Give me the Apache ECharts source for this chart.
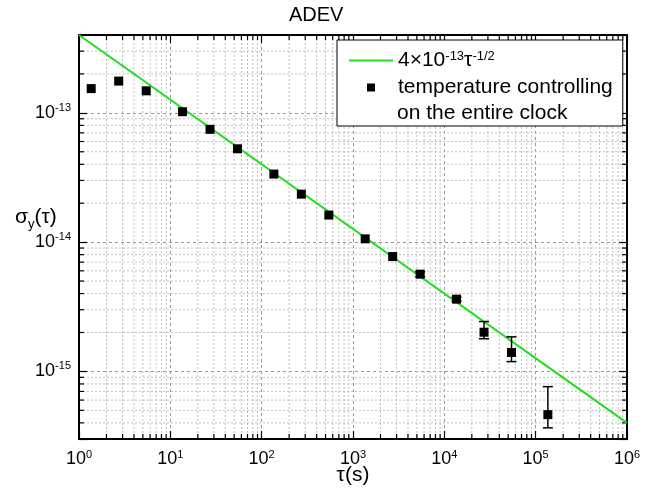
<!DOCTYPE html>
<html><head><meta charset="utf-8">
<script src="https://cdn.jsdelivr.net/npm/echarts@6/dist/echarts.min.js"></script>
<style>html,body{margin:0;padding:0;background:#fff}#c{width:652px;height:491px}</style>
</head><body><div id="c"></div>
<script>
// ---- data ----
const tau = [1.36, 2.72, 5.44, 13.6, 27.2, 54.4, 136, 272, 544, 1360, 2720, 5440, 13600, 27200, 54400, 136000];
const sigma = [1.54e-13, 1.76e-13, 1.48e-13, 1.02e-13, 7.45e-14, 5.27e-14, 3.36e-14, 2.35e-14, 1.62e-14, 1.06e-14, 7.73e-15, 5.65e-15, 3.62e-15, 2.01e-15, 1.40e-15, 4.63e-16];
const errTau = [5440, 13600, 27200, 54400, 136000];
const errLow = [5.40e-15, 3.50e-15, 1.79e-15, 1.19e-15, 3.66e-16];
const errHigh = [5.90e-15, 3.75e-15, 2.43e-15, 1.85e-15, 7.62e-16];
const fitTau = [1, 1e6];
const fitSigma = [4e-13, 4e-16];
const xDecades = [1, 10, 100, 1e3, 1e4, 1e5];
const yDecades = [1e-16, 1e-15, 1e-14, 1e-13];
const minorMultipliers = [2, 3, 4, 5, 6, 7, 8, 9];
const xRange = [1, 1e6];
const yRange = [3e-16, 4e-13];
const legendNames = ['fit', 'data'];
const legendLabels = ['4×10{sup|-13}τ{sup|-1/2}', 'temperature controlling'];
const legendSecondLine = 'on the entire clock';
const titleText = 'ADEV';
const xName = 'τ(s)';
const yName = '{s|σ}{sub|y}{s|(τ)}';

// ---- derived ----
function minorList(decades, range) {
  const out = [];
  decades.forEach(d => minorMultipliers.forEach(m => {
    const v = d * m;
    if (v > range[0] * 1.0001 && v < range[1] * 0.9999) out.push(v);
  }));
  return out;
}
const xMinor = minorList(xDecades, xRange);
const yMinor = minorList(yDecades, yRange);

const FONT = 'Liberation Sans, Arial, sans-serif';
function powLabel(v) {
  const l = Math.log10(v);
  const e = Math.round(l);
  if (Math.abs(l - e) > 1e-6) return '';
  return '{b|10}{sup|' + e + '}';
}
const labelRich = {
  b: {fontSize: 18, fontFamily: FONT, color: '#000', lineHeight: 21},
  sup: {fontSize: 11, fontFamily: FONT, color: '#000', verticalAlign: 'top', lineHeight: 11}
};

const chart = echarts.init(document.getElementById('c'));
const minorStyle = {stroke: '#c0c0c0', lineWidth: 1, lineDash: [2, 2]};
const tickStyle = {stroke: '#000', lineWidth: 1.2};

const option = {
  backgroundColor: '#fff',
  animation: false,
  title: {text: titleText, left: 289, top: 5, padding: 0,
    textStyle: {fontSize: 20, fontWeight: 'normal', color: '#000', fontFamily: FONT}},
  grid: {left: 79, right: 25, top: 35, bottom: 52, containLabel: false, outerBoundsMode: 'none'},
  legend: {
    orient: 'vertical', left: 337, top: 40,
    padding: [10, 10, 28, 12], itemGap: 6,
    itemWidth: 44, itemHeight: 8, symbolKeepAspect: true,
    borderColor: '#000', borderWidth: 1, backgroundColor: '#fff',
    data: [{name: 'fit', icon: 'path://M0,0H44V2H0Z'}, {name: 'data', icon: 'path://M0,0H10V10H0Z'}],
    formatter: name => legendLabels[legendNames.indexOf(name)],
    textStyle: {fontSize: 21, color: '#000', fontFamily: FONT,
      rich: {sup: {fontSize: 13, fontFamily: FONT, color: '#000', verticalAlign: 'top', lineHeight: 13}}},
    z: 10
  },
  graphic: [
    {type: 'text', left: 397, top: 103, z: 20,
      style: {text: legendSecondLine, fontSize: 21, fill: '#000', fontFamily: FONT}},
    {type: 'text', left: 15, top: 207, z: 20,
      style: {text: yName, rich: {
        s: {fontSize: 21, fontFamily: FONT, fill: '#000', lineHeight: 26},
        sub: {fontSize: 13, fontFamily: FONT, fill: '#000', verticalAlign: 'bottom', lineHeight: 13}}}}
  ],
  xAxis: [{
    type: 'log', logBase: 10, min: xRange[0], max: xRange[1], position: 'bottom',
    name: xName, nameLocation: 'middle', nameGap: 26, nameMoveOverlap: false,
    nameTextStyle: {fontSize: 21, color: '#000', fontFamily: FONT},
    axisLine: {lineStyle: {color: '#000', width: 2}},
    axisTick: {inside: true, length: 8, lineStyle: {color: '#000', width: 1.2}},
    axisLabel: {formatter: powLabel, rich: labelRich, margin: 10, color: '#000'},
    splitLine: {show: true, lineStyle: {color: '#999', width: 1, type: [3, 3]}}
  }, {
    type: 'log', logBase: 10, min: xRange[0], max: xRange[1], position: 'top',
    axisLine: {lineStyle: {color: '#000', width: 2}},
    axisTick: {inside: true, length: 8, lineStyle: {color: '#000', width: 1.2}},
    axisLabel: {show: false}, splitLine: {show: false}
  }],
  yAxis: [{
    type: 'log', logBase: 10, min: yRange[0], max: yRange[1], position: 'left',
    axisLine: {lineStyle: {color: '#000', width: 2}},
    axisTick: {inside: true, length: 8, lineStyle: {color: '#000', width: 1.2}},
    axisLabel: {formatter: powLabel, rich: labelRich, margin: 8, color: '#000'},
    splitLine: {show: true, lineStyle: {color: '#999', width: 1, type: [3, 3]}}
  }, {
    type: 'log', logBase: 10, min: yRange[0], max: yRange[1], position: 'right',
    axisLine: {lineStyle: {color: '#000', width: 2}},
    axisTick: {inside: true, length: 8, lineStyle: {color: '#000', width: 1.2}},
    axisLabel: {show: false}, splitLine: {show: false}
  }],
  series: [
    {
      type: 'custom', name: 'xminor', silent: true, z: 0, clip: false,
      data: xMinor.map(v => [v, 1e-14]),
      encode: {x: 0, y: 1},
      renderItem: (params, api) => {
        const cs = params.coordSys;
        const x = api.coord([api.value(0), 1e-14])[0];
        return {type: 'group', children: [
          {type: 'line', shape: {x1: x, y1: cs.y, x2: x, y2: cs.y + cs.height}, style: minorStyle},
          {type: 'line', shape: {x1: x, y1: cs.y + cs.height, x2: x, y2: cs.y + cs.height - 5}, style: tickStyle},
          {type: 'line', shape: {x1: x, y1: cs.y, x2: x, y2: cs.y + 5}, style: tickStyle}
        ]};
      }
    },
    {
      type: 'custom', name: 'yminor', silent: true, z: 0, clip: false,
      data: yMinor.map(v => [10, v]),
      encode: {x: 0, y: 1},
      renderItem: (params, api) => {
        const cs = params.coordSys;
        const y = api.coord([10, api.value(1)])[1];
        return {type: 'group', children: [
          {type: 'line', shape: {x1: cs.x, y1: y, x2: cs.x + cs.width, y2: y}, style: minorStyle},
          {type: 'line', shape: {x1: cs.x, y1: y, x2: cs.x + 5, y2: y}, style: tickStyle},
          {type: 'line', shape: {x1: cs.x + cs.width, y1: y, x2: cs.x + cs.width - 5, y2: y}, style: tickStyle}
        ]};
      }
    },
    {
      type: 'line', name: 'fit', showSymbol: false, symbol: 'none', z: 3,
      data: fitTau.map((t, i) => [t, fitSigma[i]]),
      lineStyle: {color: '#22dd22', width: 2}, itemStyle: {color: '#22dd22'}
    },
    {
      type: 'custom', name: 'err', z: 4,
      data: errTau.map((t, i) => [t, errLow[i], errHigh[i]]),
      encode: {x: 0, y: [1, 2]},
      renderItem: (params, api) => {
        const t = api.value(0);
        const p1 = api.coord([t, api.value(1)]);
        const p2 = api.coord([t, api.value(2)]);
        const w = 5, st = {stroke: '#000', lineWidth: 1.5};
        return {type: 'group', children: [
          {type: 'line', shape: {x1: p1[0], y1: p1[1], x2: p2[0], y2: p2[1]}, style: st},
          {type: 'line', shape: {x1: p1[0] - w, y1: p1[1], x2: p1[0] + w, y2: p1[1]}, style: st},
          {type: 'line', shape: {x1: p2[0] - w, y1: p2[1], x2: p2[0] + w, y2: p2[1]}, style: st}
        ]};
      }
    },
    {
      type: 'scatter', name: 'data', symbol: 'rect', symbolSize: 9, z: 5,
      data: tau.map((t, i) => [t, sigma[i]]),
      itemStyle: {color: '#000', opacity: 1}
    }
  ]
};
chart.setOption(option);
</script></body></html>
